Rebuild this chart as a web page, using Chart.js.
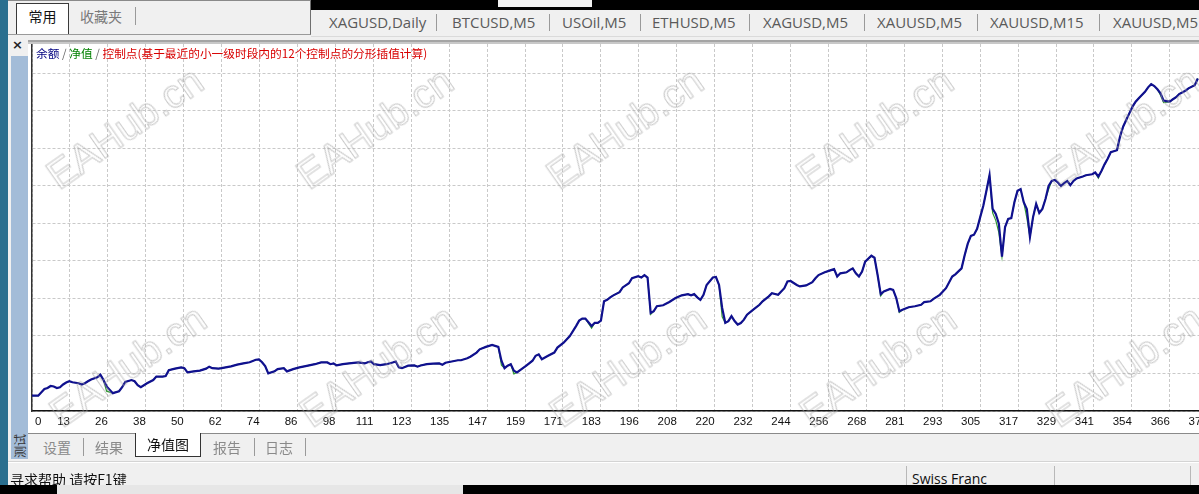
<!DOCTYPE html>
<html lang="zh-CN">
<head>
<meta charset="utf-8">
<title>净值图</title>
<script src="https://cdn.jsdelivr.net/npm/chart.js@4.4.1/dist/chart.umd.min.js"></script>
<style>
html,body{margin:0;padding:0;background:#f0f0f0;}
#screen{position:relative;width:1199px;height:494px;overflow:hidden;background:#f0f0f0;
  font-family:"Noto Sans CJK SC","Noto Sans",sans-serif;}
.a{position:absolute;}
.symTab{position:absolute;top:12px;font:15px "Open Sans","Noto Sans",sans-serif;color:#5a5a5a;line-height:20px;white-space:nowrap;}
.sep{position:absolute;width:1px;background:#9a9a9a;}
.btab{position:absolute;top:438px;font-size:14px;line-height:18px;color:#8a8a8a;white-space:nowrap;}
.wm{position:absolute;font:40px "Liberation Sans",Arial,sans-serif;color:transparent;
  -webkit-text-stroke:1px rgba(165,165,165,0.6);transform:translate(-50%,-50%) rotate(-35deg);
  white-space:nowrap;pointer-events:none;z-index:5;}
</style>
</head>
<body>
<div id="screen">

  <!-- LEFT STRIPS -->
  <div class="a" style="left:0;top:0;width:8px;height:485px;background:#2a6f8f"></div>
  <div class="a" style="left:11px;top:56px;width:17px;height:403px;background:#a3bcd8"></div>
  <div class="a" style="left:11px;top:428px;width:17px;height:30px;font-size:12px;line-height:17px;color:#333;
       writing-mode:vertical-rl;text-orientation:sideways;transform:rotate(180deg);text-align:left">测试</div>
  <div class="a" style="left:12px;top:37px;font:bold 13px 'DejaVu Sans',sans-serif;color:#222">×</div>

  <!-- TOP LEFT PANEL -->
  <div class="a" style="left:8px;top:0;width:302px;height:33px;border-right:1px solid #6f6f6f;border-bottom:1px solid #9a9a9a;border-top:1px solid #8a8a8a"></div>
  <div class="a" style="left:16px;top:3px;width:51px;height:30px;background:#fff;border:1px solid #3a3a3a;border-bottom:none;
       font-size:14px;line-height:24px;text-align:center;color:#111">常用</div>
  <div class="a" style="left:80px;top:6px;font-size:14px;line-height:20px;color:#7a7a7a">收藏夹</div>
  <div class="sep" style="left:135px;top:7px;height:18px"></div>

  <!-- TOP RIGHT BAR -->
  <div class="a" style="left:311px;top:0;width:888px;height:10px;background:#000"></div>
  <div class="a" style="left:498px;top:0;width:94px;height:7px;background:#f2f2f2"></div>
  <div class="a" style="left:311px;top:36px;width:888px;height:1px;background:#dadada"></div>
  <span class="symTab" style="left:329px">XAGUSD,Daily</span>
  <div class="sep" style="left:436px;top:14px;height:17px"></div>
  <span class="symTab" style="left:452px">BTCUSD,M5</span>
  <div class="sep" style="left:549px;top:14px;height:17px"></div>
  <span class="symTab" style="left:562px">USOil,M5</span>
  <div class="sep" style="left:640px;top:14px;height:17px"></div>
  <span class="symTab" style="left:652px">ETHUSD,M5</span>
  <div class="sep" style="left:749px;top:14px;height:17px"></div>
  <span class="symTab" style="left:763px">XAGUSD,M5</span>
  <div class="sep" style="left:864px;top:14px;height:17px"></div>
  <span class="symTab" style="left:877px">XAUUSD,M5</span>
  <div class="sep" style="left:977px;top:14px;height:17px"></div>
  <span class="symTab" style="left:990px">XAUUSD,M15</span>
  <div class="sep" style="left:1099px;top:14px;height:17px"></div>
  <span class="symTab" style="left:1113px">XAUUSD,M5</span>

  <!-- CHART FRAME -->
  <div class="a" style="left:28px;top:40px;width:1171px;height:2px;background:#a4a4a4"></div>
  <div class="a" style="left:28px;top:42px;width:1171px;height:2px;background:#c8c8c8"></div>
  <div class="a" style="left:28px;top:44px;width:1171px;height:389px;background:#fff"></div>
  <div class="a" style="left:20px;top:44px;width:1240px;height:390px">
    <canvas id="equityChart"></canvas>
  </div>
  <div class="a" style="left:36px;top:46px;font-size:11.7px;line-height:14px;white-space:nowrap;z-index:4">
    <span style="color:#000080">余额</span><span style="color:#666"> / </span><span style="color:#008000">净值</span><span style="color:#666"> / </span><span style="color:#d80000">控制点(基于最近的小一级时段内的12个控制点的分形插值计算)</span>
  </div>

  <!-- WATERMARK -->
  <div class="wm" style="left:125px;top:128px">EAHub.cn</div>
  <div class="wm" style="left:375px;top:128px">EAHub.cn</div>
  <div class="wm" style="left:625px;top:128px">EAHub.cn</div>
  <div class="wm" style="left:875px;top:128px">EAHub.cn</div>
  <div class="wm" style="left:1122px;top:128px">EAHub.cn</div>
  <div class="wm" style="left:128px;top:366px">EAHub.cn</div>
  <div class="wm" style="left:378px;top:366px">EAHub.cn</div>
  <div class="wm" style="left:628px;top:366px">EAHub.cn</div>
  <div class="wm" style="left:878px;top:366px">EAHub.cn</div>
  <div class="wm" style="left:1125px;top:366px">EAHub.cn</div>

  <!-- BOTTOM TABS -->
  <div class="a" style="left:28px;top:433px;width:1171px;height:1px;background:#8a8a8a"></div>
  <span class="btab" style="left:43px">设置</span>
  <div class="sep" style="left:83px;top:438px;height:18px"></div>
  <span class="btab" style="left:95px">结果</span>
  <div class="a" style="left:135px;top:433px;width:64px;height:23px;background:#fff;border:1px solid #333;border-top:none;
       font-size:14px;line-height:22px;text-align:center;color:#111">净值图</div>
  <span class="btab" style="left:213px">报告</span>
  <div class="sep" style="left:254px;top:438px;height:18px"></div>
  <span class="btab" style="left:265px">日志</span>
  <div class="sep" style="left:305px;top:438px;height:18px"></div>

  <!-- STATUS BAR -->
  <div class="a" style="left:8px;top:461px;width:1191px;height:1px;background:#d4d4d4"></div>
  <div class="a" style="left:8px;top:462px;width:1191px;height:1px;background:#fff"></div>
  <div class="a" style="left:10px;top:470px;font-size:14px;line-height:18px;color:#111;white-space:nowrap">寻求帮助 请按F1键</div>
  <div class="sep" style="left:906px;top:466px;height:19px;background:#b8b8b8"></div>
  <div class="a" style="left:912px;top:470px;font:14px 'Open Sans','Noto Sans',sans-serif;line-height:18px;color:#111">Swiss Franc</div>
  <div class="sep" style="left:1054px;top:466px;height:19px;background:#b8b8b8"></div>
  <div class="sep" style="left:1190px;top:466px;height:19px;background:#b8b8b8"></div>
  <div class="a" style="left:0;top:485px;width:1199px;height:9px;background:#e6e6e6;z-index:6"></div>
  <div class="a" style="left:0;top:485px;width:57px;height:9px;background:#000;z-index:6"></div>
  <div class="a" style="left:463px;top:485px;width:736px;height:9px;background:#000;z-index:6"></div>
</div>

<script>
// DATA

// trade number along the bottom axis
const xTickLabels = [
    "0","13","26","38","50","62","74","86","98","111","123","135","147","159","171","183",
    "196","208","220","232","244","256","268","281","293","305","317","329","341","354","366","378"
];

const tradeNo = [
    0,2,4,5,6,7,8,9,10,11,12,13,15,16,17,18,19,21,22,23,24,26,28,29,30,32,33,34,35,37,39,40,
    42,43,44,46,48,49,50,52,54,56,57,58,60,61,64,66,68,70,72,73,74,75,76,78,79,81,82,84,86,88,
    91,93,95,96,97,98,100,102,105,107,108,109,110,112,114,116,117,118,119,121,123,124,125,127,129,131,132,133,
    135,137,138,140,141,143,144,146,148,150,151,152,153,154,155,156,157,159,161,162,163,164,166,168,169,171,
    173,175,176,177,178,180,181,182,183,184,185,186,187,189,190,192,193,195,196,197,198,199,200,201,203,205,
    207,209,211,212,213,214,215,216,217,219,220,221,222,223,224,225,226,227,228,229,230,232,234,235,237,238,
    240,242,243,244,246,247,249,251,252,253,255,257,258,259,260,262,263,264,265,266,267,268,270,271,272,273,
    274,276,277,278,279,280,282,284,286,287,289,290,292,294,296,297,299,300,301,302,303,304,305,306,307,308,
    309,310,311,312,313,314,315,316,317,318,319,320,321,322,323,324,325,326,327,328,329,330,331,332,333,334,
    335,336,338,339,341,342,343,344,345,346,347,349,350,351,352,353,354,355,356,357,358,359,360,361,362,363,
    364,366,367,368,369,371,372,374,375
];

const balance = [
    10062,10062,10089,10093,10101,10099,10093,10096,10107,10115,10120,10116,10112,10107,10112,10120,10127,10136,10147,10125,10099,10072,10080,10096,10117,10125,10120,10104,10096,10112,10125,10139,
    10139,10141,10165,10171,10176,10173,10156,10160,10163,10171,10179,10173,10171,10173,10180,10187,10192,10197,10207,10208,10197,10181,10152,10160,10169,10173,10160,10169,10176,10181,
    10189,10196,10196,10189,10192,10184,10189,10192,10196,10192,10197,10200,10189,10185,10189,10196,10200,10176,10173,10183,10184,10179,10184,10189,10191,10192,10187,10195,
    10200,10205,10205,10213,10219,10236,10249,10259,10267,10259,10203,10173,10183,10189,10163,10156,10165,10183,10203,10223,10229,10209,10223,10236,10256,10276,
    10303,10343,10365,10373,10373,10343,10356,10356,10365,10443,10449,10459,10467,10480,10499,10516,10536,10544,10539,10549,10539,10396,10403,10423,10427,10440,
    10456,10467,10472,10467,10472,10459,10449,10469,10509,10539,10541,10509,10416,10356,10363,10383,10363,10349,10355,10369,10389,10409,10429,10443,10463,10476,
    10469,10496,10523,10525,10509,10503,10507,10520,10536,10549,10560,10569,10573,10543,10556,10560,10569,10576,10556,10543,10563,10603,10627,10619,10549,10472,
    10483,10493,10489,10456,10403,10409,10419,10423,10429,10440,10443,10453,10469,10496,10543,10552,10576,10629,10676,10707,10712,10736,10783,10829,10889,10952,
    10816,10796,10756,10623,10743,10776,10779,10843,10889,10896,10843,10816,10703,10783,10836,10800,10816,10856,10909,10929,10933,10923,10909,10920,10929,10912,
    10929,10939,10947,10952,10956,10963,10947,10969,10996,11019,11045,11053,11109,11149,11176,11203,11229,11249,11263,11276,11289,11307,11320,11312,11299,11283,
    11253,11249,11259,11267,11280,11293,11303,11316,11343
];

// equity where it leaves the balance line
const equityTrades = [24, 151, 155, 180, 199, 222, 273, 279, 309, 310, 311, 320, 327, 343, 363, 364];
const equityValues = [10080, 10185, 10150, 10335, 10390, 10380, 10465, 10398, 10800, 10770, 10720, 10780, 10895, 10940, 11275, 11245];

// SCALE SETTINGS

const X_TICK_STEP = 12.2;
const X_MAX = 395;
const Y_MIN = 10000;
const Y_MAX = 11482;
const Y_GRID = 151.6;

// SERIES

let balancePoints = tradeNo.map((t, i) => ({ x: t, y: balance[i] }));

let equityPoints = balancePoints.map(p => {
    let k = equityTrades.indexOf(p.x);
    return { x: p.x, y: k >= 0 ? equityValues[k] : p.y };
});

// first label sits right of the axis, not left of it
const firstLabelRight = {
    id: "firstLabelRight",
    beforeDraw(chart) {
        let items = chart.scales.x.getLabelItems();
        if (items.length) {
            items[0].options.textAlign = "left";
            items[0].options.translation[0] += 3;
        }
    }
};

// CHART

new Chart(document.getElementById("equityChart"), {

    type: "line",

    data: {
        datasets: [
            {
                label: "净值",
                data: equityPoints,
                borderColor: "#2f9a2f",
                borderWidth: 1.2,
                pointRadius: 0,
                tension: 0,
                order: 2
            },
            {
                label: "余额",
                data: balancePoints,
                borderColor: "#10108f",
                borderWidth: 2.2,
                pointRadius: 0,
                tension: 0,
                order: 1
            }
        ]
    },

    options: {
        responsive: true,
        maintainAspectRatio: false,
        animation: false,
        layout: { padding: { left: 12, right: 0, top: 0, bottom: 2.2 } },
        plugins: {
            legend: { display: false },
            tooltip: { enabled: false }
        },
        scales: {
            x: {
                type: "linear",
                min: 0,
                max: X_MAX,
                afterBuildTicks: scale => {
                    scale.ticks = xTickLabels.map((l, k) => ({ value: k * X_TICK_STEP }));
                },
                ticks: {
                    autoSkip: false,
                    maxRotation: 0,
                    align: "end",
                    padding: 3.5,
                    color: "#111",
                    font: { family: "'Liberation Sans', Arial, sans-serif", size: 11.5 },
                    callback: (v, i) => xTickLabels[i]
                },
                grid: { color: "#c9c9c9", lineWidth: 1, drawTicks: false },
                border: { display: true, color: "#111", width: 1.5, dash: [3, 2] }
            },
            y: {
                min: Y_MIN,
                max: Y_MAX,
                afterBuildTicks: scale => {
                    let t = [];
                    for (let v = Y_MIN; v <= Y_MAX; v += Y_GRID) t.push({ value: v });
                    scale.ticks = t;
                },
                ticks: { display: false },
                grid: { color: "#c9c9c9", lineWidth: 1, drawTicks: false },
                border: { display: true, color: "#333", width: 1.5, dash: [3, 2] }
            }
        }
    },

    plugins: [firstLabelRight]
});
</script>
</body>
</html>
